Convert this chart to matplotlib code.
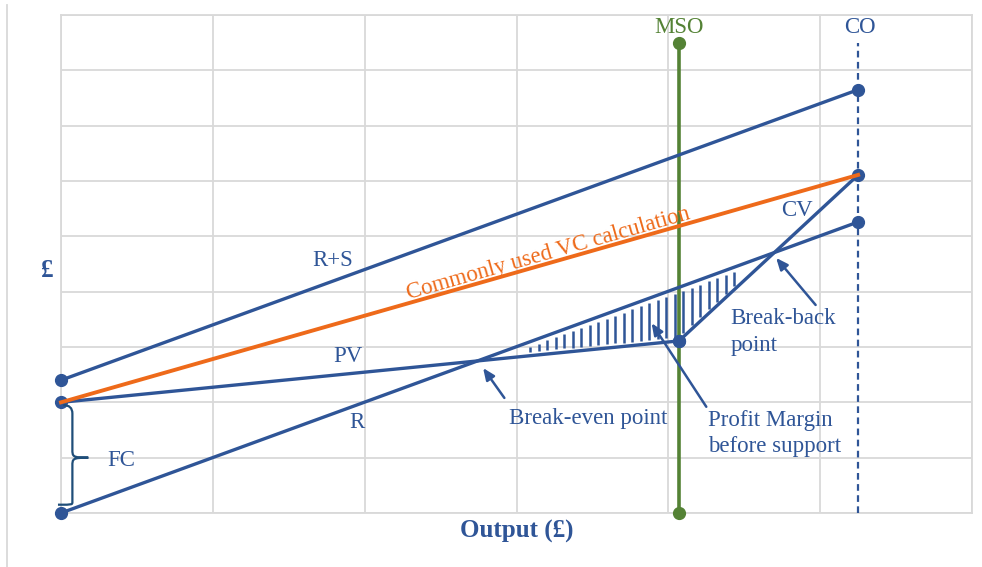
import matplotlib
matplotlib.use("Agg")
import matplotlib.pyplot as plt
import numpy as np
from matplotlib.path import Path
from matplotlib.patches import PathPatch
from matplotlib.lines import Line2D

# ---- data ----
x_start, x_mso, x_co = 0.0, 4.07, 5.25
fc = 2.0                     # fixed costs (PV start)
rs_vals = [2.4, 7.65]        # R+S at start and CO
vc_vals = [2.0, 6.11]        # commonly used VC calculation
r_vals = [0.0, 5.26]         # R at start and CO
pv_vals = [2.0, 3.11]        # PV at start and MSO
cv_vals = [3.11, 6.11]       # CV at MSO and CO
top_vals = 8.49              # top of MSO / CO markers

blue = "#2F5597"
orange = "#EE6A1A"
green = "#548235"
gridc = "#D9D9D9"
serif = ["Liberation Serif", "DejaVu Serif"]

fig = plt.figure(figsize=(9.82, 5.67), dpi=100)
ax = fig.add_axes([61/982, 54/567, 911/982, 498/567])
ax.set_xlim(0, 6)
ax.set_ylim(0, 9)
ax.set_xticks(np.arange(0, 7))
ax.set_yticks(np.arange(0, 10))
ax.grid(True, color=gridc, lw=1.3)
ax.tick_params(length=0, labelbottom=False, labelleft=False)
for s in ax.spines.values():
    s.set_color(gridc)
    s.set_linewidth(1.3)
ax.set_axisbelow(True)

fig.add_artist(Line2D([7/982, 7/982], [0, 562/567], color=gridc, lw=1.3))

# MSO vertical line
ax.plot([x_mso, x_mso], [0, top_vals], color=green, lw=2.6, marker="o", ms=8.5,
        zorder=3, clip_on=False)
# CO dashed line
ax.plot([x_co, x_co], [0, top_vals], color=blue, lw=1.6, ls=(0, (3, 2)), zorder=3)

mk = dict(marker="o", ms=8.5, color=blue, lw=2.4, zorder=4, clip_on=False)
ax.plot([x_start, x_co], rs_vals, **mk)
ax.plot([x_start, x_co], r_vals, **mk)
ax.plot([x_start, x_mso], pv_vals, **mk)
ax.plot([x_mso, x_co], cv_vals, **mk)
ax.plot([x_start, x_co], vc_vals, color=orange, lw=2.8, zorder=5, clip_on=False)

# hatching between R (above) and PV/CV (below)
def r_line(x):
    return np.interp(x, [x_start, x_co], r_vals)
def lower(x):
    return np.where(x <= x_mso, np.interp(x, [x_start, x_mso], pv_vals),
                    np.interp(x, [x_mso, x_co], cv_vals))
hx = np.arange(3.09, 4.46, 0.056)
top = r_line(hx) - 0.09
bot = lower(hx) + 0.07
ok = top > bot
ax.vlines(hx[ok], bot[ok], top[ok], color=blue, lw=1.8, zorder=3)

# FC brace
bx0, bx1, btip = 0.015, 0.075, 0.18
verts = [(bx0, fc - 0.05), (bx1, fc - 0.05), (bx1, fc - 0.2),
         (bx1, fc / 2 + 0.15),
         (bx1, fc / 2 + 0.02), (bx1, fc / 2), (btip, fc / 2),
         (bx1, fc / 2), (bx1, fc / 2 - 0.02), (bx1, fc / 2 - 0.15),
         (bx1, 0.2),
         (bx1, 0.15), (bx1, 0.15), (-0.02, 0.15)]
codes = [Path.MOVETO, Path.CURVE3, Path.CURVE3,
         Path.LINETO,
         Path.CURVE4, Path.CURVE4, Path.CURVE4,
         Path.CURVE4, Path.CURVE4, Path.CURVE4,
         Path.LINETO,
         Path.CURVE4, Path.CURVE4, Path.CURVE4]
ax.add_patch(PathPatch(Path(verts, codes), fc="none", ec="#1F4E79", lw=1.6,
                       clip_on=False, zorder=4))

fs = 16.5
tk = dict(family=serif, color=blue, fontsize=fs)
ax.text(1.79, 4.57, "R+S", ha="center", va="center", **tk)
ax.text(1.89, 2.82, "PV", ha="center", va="center", **tk)
ax.text(1.95, 1.63, "R", ha="center", va="center", **tk)
ax.text(4.85, 5.46, "CV", ha="center", va="center", **tk)
ax.text(0.40, 0.94, "FC", ha="center", va="center", **tk)
ax.text(x_co + 0.01, 8.77, "CO", ha="center", va="center", **tk)
ax.text(x_mso, 8.78, "MSO", ha="center", va="center", family=serif, color=green, fontsize=fs)
ax.text(3.21, 4.68, "Commonly used VC calculation", ha="center", va="center",
        rotation=15.9, rotation_mode="anchor", family=serif, color=orange, fontsize=fs)
ax.text(3.47, 1.70, "Break-even point", ha="center", va="center", **tk)
ax.text(4.26, 1.43, "Profit Margin\nbefore support", ha="left", va="center",
        linespacing=1.3, **tk)
ax.text(4.41, 3.27, "Break-back\npoint", ha="left", va="center",
        linespacing=1.4, **tk)
ax.text(-0.092, 4.39, "£", ha="center", va="center", family=serif, color=blue,
        fontsize=18, fontweight="bold")
ax.text(3.0, -0.325, "Output (£)", ha="center", va="center", family=serif,
        color=blue, fontsize=18, fontweight="bold")

ap = dict(arrowstyle="-|>,head_width=0.3,head_length=0.7", color=blue, lw=1.8,
          shrinkA=0, shrinkB=0)
ax.annotate("", xy=(2.78, 2.62), xytext=(2.92, 2.08), arrowprops=ap, zorder=6)
ax.annotate("", xy=(3.89, 3.43), xytext=(4.25, 1.92), arrowprops=ap, zorder=6)
ax.annotate("", xy=(4.71, 4.61), xytext=(4.97, 3.76), arrowprops=ap, zorder=6)

fig.savefig("out.png", dpi=100)
